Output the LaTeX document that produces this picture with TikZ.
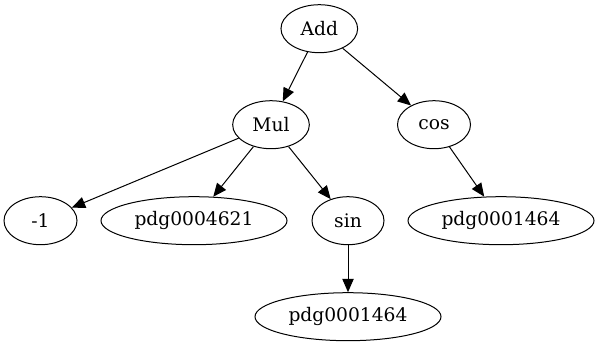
\documentclass[tikz,border=0pt]{standalone}
\usepackage{fontspec}
\setmainfont{DejaVu Serif}
\usetikzlibrary{shapes.geometric,arrows.meta}

\begin{document}
\begin{tikzpicture}[x=0.75pt,y=-0.75pt,
  opnode/.style={ellipse, draw, line width=0.75pt, inner sep=0pt,
    minimum height=36pt, minimum width=54pt, font=\fontsize{14}{16}\selectfont},
  wideop/.style={opnode, minimum width=57.5pt},
  leaf/.style={opnode, minimum width=139.5pt},
  edge/.style={line width=0.75pt, -{Triangle[length=10pt,width=8.5pt]}}]
  \useasboundingbox (0,0) rectangle (599,347);
  % rank 0 and 1
  \node[wideop] (add) at (319.3,28.7) {Add};
  \node[wideop] (mul) at (271,124.7) {Mul};
  \node[opnode, minimum width=54.75pt] (cos) at (434,124.7) {cos};
  % rank 2
  \node[opnode, minimum width=54.75pt] (negone) at (40.5,220.7) {-1};
  \node[leaf] (pdgA) at (194,220.7) {pdg0004621};
  \node[opnode] (sin) at (348,220.7) {sin};
  \node[leaf] (pdgB) at (501,220.7) {pdg0001464};
  % rank 3
  \node[leaf] (pdgC) at (348,316.7) {pdg0001464};
  % edges
  \draw[edge] (add) -- (mul);
  \draw[edge] (add) -- (cos);
  \draw[edge] (mul) -- (negone);
  \draw[edge] (mul) -- (pdgA);
  \draw[edge] (mul) -- (sin);
  \draw[edge] (cos) -- (pdgB);
  \draw[edge] (sin) -- (pdgC);
\end{tikzpicture}
\end{document}
